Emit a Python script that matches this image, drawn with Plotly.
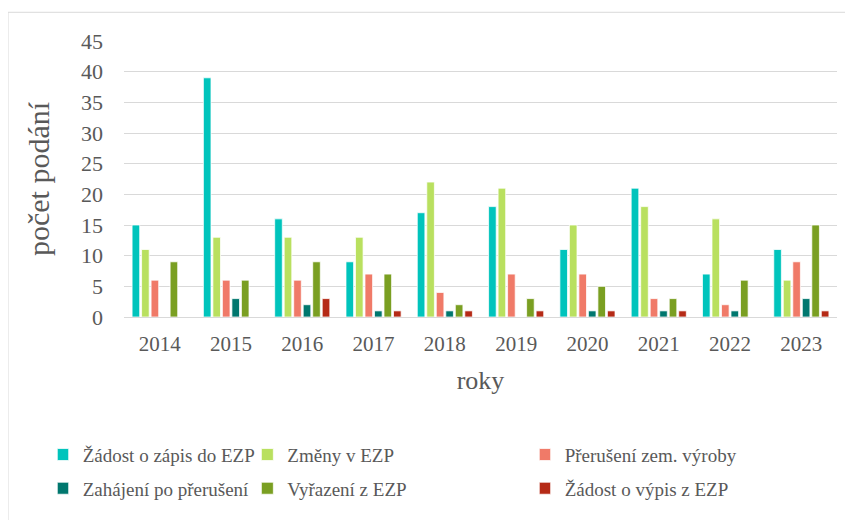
import plotly.graph_objects as go

roky = ["2014", "2015", "2016", "2017", "2018", "2019", "2020", "2021", "2022", "2023"]

zadost_zapis = [15, 39, 16, 9, 17, 18, 11, 21, 7, 11]
zmeny = [11, 13, 13, 13, 22, 21, 15, 18, 16, 6]
preruseni = [6, 6, 6, 7, 4, 7, 7, 3, 2, 9]
zahajeni = [0, 3, 2, 1, 1, 0, 1, 1, 1, 3]
vyrazeni = [9, 6, 9, 7, 2, 3, 5, 3, 6, 15]
zadost_vypis = [0, 0, 3, 1, 1, 1, 1, 1, 0, 1]

serie = [
    ("Žádost o zápis do EZP", zadost_zapis, "#00C4BC", "legend"),
    ("Změny v EZP", zmeny, "#B9E05F", "legend2"),
    ("Přerušení zem. výroby", preruseni, "#F07A68", "legend3"),
    ("Zahájení po přerušení", zahajeni, "#00776E", "legend"),
    ("Vyřazení z EZP", vyrazeni, "#7A9F22", "legend2"),
    ("Žádost o výpis z EZP", zadost_vypis, "#B52A16", "legend3"),
]

fig = go.Figure()
for i, (name, vals, col, leg) in enumerate(serie):
    fig.add_trace(go.Bar(
        x=roky, y=vals, name=name, marker_color=col,
        marker_line=dict(color="white", width=0.75),
        legend=leg, legendgroup=str(i),
    ))

font = "Liberation Serif, Times New Roman, serif"
grey = "#595959"

leg_common = dict(
    orientation="v", xanchor="left", yanchor="top", y=-0.43,
    font=dict(family=font, size=19, color=grey),
    bgcolor="rgba(0,0,0,0)", tracegroupgap=6,
    itemwidth=30,
)

# stranka ma 8px okraj body, proto je obrazek o 8px mensi
fig.update_layout(
    width=845, height=512,
    margin=dict(l=116, r=16, t=33, b=200),
    paper_bgcolor="white", plot_bgcolor="white",
    barmode="group", bargap=0.2, bargroupgap=0.2,
    font=dict(family=font, color=grey),
    legend=dict(x=-0.093, indentation=-15, **leg_common),
    legend2=dict(x=0.173, **leg_common),
    legend3=dict(x=0.583, indentation=-15, **leg_common),
    xaxis=dict(
        tickfont=dict(size=21, color=grey),
        title=dict(text="roky", font=dict(size=26, color=grey), standoff=15),
        showline=False, ticks="", ticklabelstandoff=12,
    ),
    yaxis=dict(
        range=[0, 45], dtick=5,
        tickfont=dict(size=22, color=grey),
        title=dict(text="počet podání", font=dict(size=30, color=grey), standoff=22),
        showgrid=True, gridcolor="#d9d9d9", gridwidth=1.3,
        zeroline=True, zerolinecolor="#d9d9d9", zerolinewidth=1.3,
        ticks="", ticklabelstandoff=20,
    ),
    shapes=[dict(
        type="rect", xref="paper", yref="paper",
        x0=-0.1627, x1=1.1, y0=-0.8, y1=1.104,
        line=dict(color="#d9d9d9", width=1), fillcolor="rgba(0,0,0,0)",
        layer="below",
    )],
)

fig.write_html("out.html")
